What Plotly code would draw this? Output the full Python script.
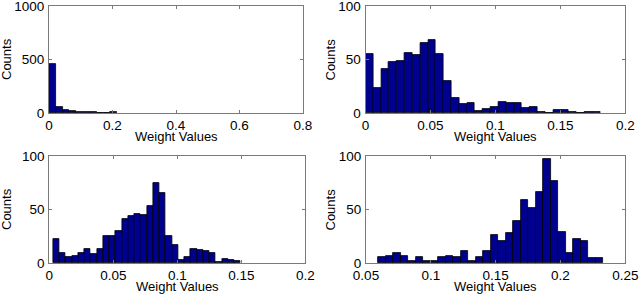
import plotly.graph_objects as go

W, H = 640, 294

# ---- data (histogram counts) ----
p1_bin_start, p1_bin_width = 0.0, 0.0215
p1_counts = [460, 56, 30, 19, 12, 8, 6, 0, 0, 5]

p2_bin_start, p2_bin_width = 0.0, 0.00602
p2_counts = [55, 23, 41, 48, 49, 56, 54, 65, 68, 55, 30, 14, 8, 9, 2,
             4, 6, 10, 9, 9, 5, 6, 1, 0, 3, 3, 1, 0, 1, 1]

p3_bin_start, p3_bin_width = 0.0031, 0.00488
p3_counts = [22, 9, 6, 7, 9, 13, 8, 13, 25, 25, 30, 41, 44, 46, 45,
             53, 75, 65, 25, 17, 3, 6, 13, 12, 11, 9, 1, 4, 3, 2]

p4_bin_start, p4_bin_width = 0.0595, 0.00578
p4_counts = [6, 7, 9, 7, 2, 6, 2, 2, 6, 7, 6, 11, 2, 6, 11,
             26, 21, 28, 39, 59, 51, 66, 97, 77, 29, 9, 22, 21, 5, 5]

p1_xticks = [0, 0.2, 0.4, 0.6, 0.8]
p1_xlabels = ["0", "0.2", "0.4", "0.6", "0.8"]
p1_yticks = [0, 500, 1000]
p2_xticks = [0, 0.05, 0.1, 0.15, 0.2]
p2_xlabels = ["0", "0.05", "0.1", "0.15", "0.2"]
p4_xticks = [0.05, 0.1, 0.15, 0.2, 0.25]
p4_xlabels = ["0.05", "0.1", "0.15", "0.2", "0.25"]
y100_ticks = [0, 50, 100]

x_title = "Weight Values"
y_title = "Counts"

# ---- layout geometry (pixels) ----
panels = [
    dict(start=p1_bin_start, width=p1_bin_width, counts=p1_counts,
         xr=[0, 0.8], yr=[0, 1000], xt=p1_xticks, xl=p1_xlabels, yt=p1_yticks,
         px=(49, 303), py=(6, 113)),
    dict(start=p2_bin_start, width=p2_bin_width, counts=p2_counts,
         xr=[0, 0.2], yr=[0, 100], xt=p2_xticks, xl=p2_xlabels, yt=y100_ticks,
         px=(365.5, 625.3), py=(6, 113)),
    dict(start=p3_bin_start, width=p3_bin_width, counts=p3_counts,
         xr=[0, 0.2], yr=[0, 100], xt=p2_xticks, xl=p2_xlabels, yt=y100_ticks,
         px=(49.3, 305.3), py=(156, 263)),
    dict(start=p4_bin_start, width=p4_bin_width, counts=p4_counts,
         xr=[0.05, 0.25], yr=[0, 100], xt=p4_xticks, xl=p4_xlabels, yt=y100_ticks,
         px=(366, 625.3), py=(156, 263)),
]

FONT = "Liberation Sans, Arial, Helvetica, sans-serif"
FS_TICK = 13.5
FS_TITLE = 13
AXC = "#7a7a7a"

fig = go.Figure()
annotations = []
layout = {}
for i, p in enumerate(panels):
    n = i + 1
    xa = "xaxis" if n == 1 else f"xaxis{n}"
    ya = "yaxis" if n == 1 else f"yaxis{n}"
    xref = "x" if n == 1 else f"x{n}"
    yref = "y" if n == 1 else f"y{n}"
    centers = [p["start"] + p["width"] * (k + 0.5) for k in range(len(p["counts"]))]
    fig.add_trace(go.Bar(
        x=centers, y=p["counts"], width=p["width"],
        marker=dict(color="#00008F", line=dict(color="black", width=0.8)),
        xaxis=xref, yaxis=yref, showlegend=False, hoverinfo="x+y"))
    x0, x1 = p["px"]
    y0, y1 = p["py"]
    common = dict(showline=True, linecolor=AXC, linewidth=1, mirror="ticks",
                  ticks="inside", ticklen=3, tickcolor=AXC, tickwidth=1,
                  showgrid=False, zeroline=False, fixedrange=True, automargin=False,
                  ticklabeloverflow="allow",
                  tickfont=dict(family=FONT, size=FS_TICK, color="black"))
    layout[xa] = dict(domain=[x0 / W, x1 / W], range=p["xr"], anchor=yref,
                      tickmode="array", tickvals=p["xt"], ticktext=p["xl"],
                      ticklabelstandoff=0, **common)
    layout[ya] = dict(domain=[1 - y1 / H, 1 - y0 / H], range=p["yr"], anchor=xref,
                      tickmode="array", tickvals=p["yt"],
                      ticktext=[str(v) for v in p["yt"]],
                      ticklabelstandoff=1, **common)
    # axis titles
    annotations.append(dict(text=x_title, x=(x0 + x1) / 2 / W, y=1 - (y1 + 23) / H,
                            xref="paper", yref="paper", xanchor="center", yanchor="middle",
                            showarrow=False, font=dict(family=FONT, size=FS_TITLE, color="black")))
    tx = 6.5 if x0 < 200 else 330
    annotations.append(dict(text=y_title, x=tx / W, y=1 - ((y0 + y1) / 2) / H,
                            xref="paper", yref="paper", xanchor="center", yanchor="middle",
                            textangle=-90, showarrow=False,
                            font=dict(family=FONT, size=FS_TITLE, color="black")))

fig.update_layout(template="none", width=W, height=H, margin=dict(l=0, r=0, t=0, b=0),
                  paper_bgcolor="white", plot_bgcolor="white",
                  bargap=0, annotations=annotations, **layout)

fig.write_html("out.html", config={"displayModeBar": False},
               post_script="document.body.style.margin='0';document.body.style.overflow='hidden';")
